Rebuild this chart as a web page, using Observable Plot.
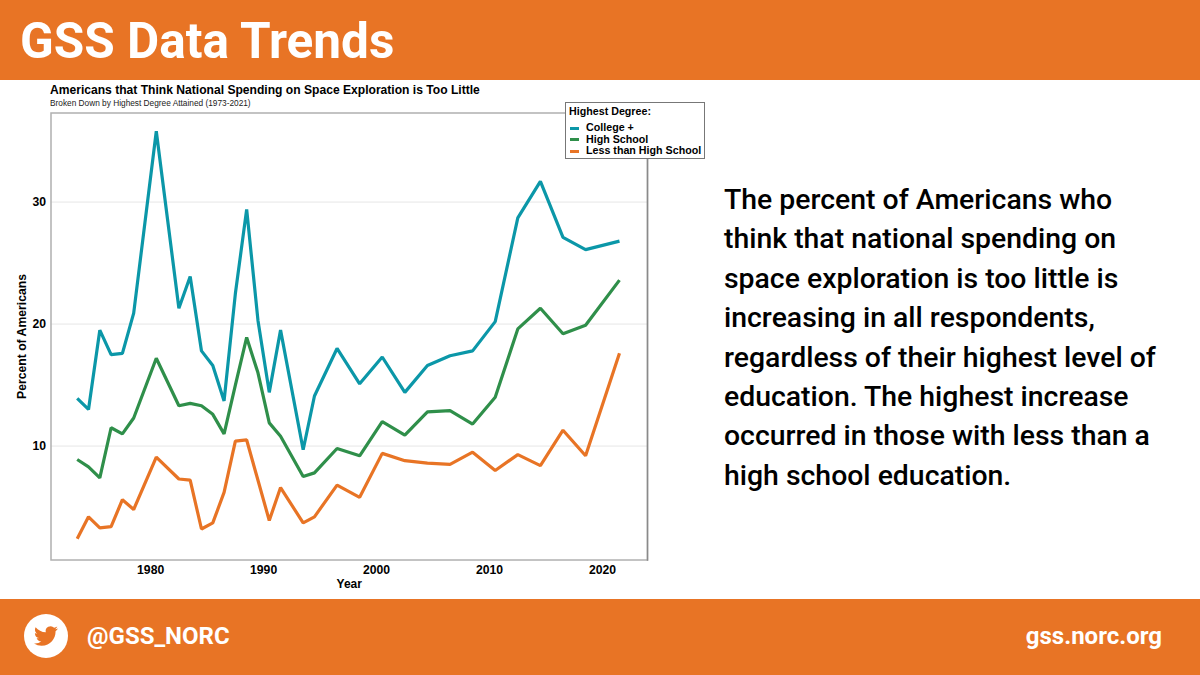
<!DOCTYPE html>
<html>
<head>
<meta charset="utf-8">
<script src="https://cdn.jsdelivr.net/npm/d3@7"></script>
<script src="https://cdn.jsdelivr.net/npm/@observablehq/plot@0.6"></script>
<style>
html,body{margin:0;padding:0;background:#fff;width:1200px;height:675px;overflow:hidden}
body{position:relative;font-family:"Liberation Sans",Arial,sans-serif;color:#000}
.band{position:absolute;left:0;width:1200px;background:#e87425;color:#fff;font-family:Roboto,sans-serif}
#head{top:0;height:80px}
#head div{position:absolute;left:20px;top:13px;font-size:49.5px;font-weight:700;line-height:56px}
#foot{top:599px;height:76px}
#handle{position:absolute;left:87px;top:21px;font-size:24px;font-weight:700;line-height:32px}
#site{position:absolute;right:38px;top:21px;font-size:24px;font-weight:700;line-height:32px}
#circle{position:absolute;left:24px;top:15px;width:44px;height:44px;border-radius:50%;background:#fff}
#circle svg{position:absolute;left:10px;top:10px;width:24px;height:24px}
#ctitle{position:absolute;left:50px;top:83px;font-size:12.1px;font-weight:700;line-height:15px;white-space:nowrap}
#csub{position:absolute;left:50px;top:98px;font-size:8.3px;line-height:11px;white-space:nowrap;color:#222}
#chart{position:absolute;left:0;top:100px}
#chart svg{display:block}
#legend{position:absolute;left:565px;top:102px;width:138px;height:55px;background:#fff;border:1px solid #777;font-size:10.7px;font-weight:700;line-height:11.6px}
#legend .t{position:absolute;left:3px;top:3px;white-space:nowrap}
#legend .r{position:absolute;left:3px;white-space:nowrap}
#legend .s{position:absolute;left:1px;top:4.5px;width:9px;height:3px}
#legend .l{position:absolute;left:17px;top:0}
#text{position:absolute;left:724px;top:180px;width:460px;font-family:Roboto,sans-serif;font-weight:500;font-size:28.4px;line-height:39.4px;color:#000}
</style>
</head>
<body>
<div id="head" class="band"><div>GSS Data Trends</div></div>
<div id="ctitle">Americans that Think National Spending on Space Exploration is Too Little</div>
<div id="csub">Broken Down by Highest Degree Attained (1973-2021)</div>
<div id="chart"></div>
<div id="legend"></div>
<div id="text">The percent of Americans who<br>think that national spending on<br>space exploration is too little is<br>increasing in all respondents,<br>regardless of their highest level of<br>education. The highest increase<br>occurred in those with less than a<br>high school education.</div>
<div id="foot" class="band">
  <div id="circle"><svg viewBox="0 0 24 24"><path fill="#e87425" d="M23.953 4.57a10 10 0 01-2.825.775 4.958 4.958 0 002.163-2.723c-.951.555-2.005.959-3.127 1.184a4.92 4.92 0 00-8.384 4.482C7.69 8.095 4.067 6.13 1.64 3.162a4.822 4.822 0 00-.666 2.475c0 1.71.87 3.213 2.188 4.096a4.904 4.904 0 01-2.228-.616v.06a4.923 4.923 0 003.946 4.827 4.996 4.996 0 01-2.212.085 4.936 4.936 0 004.604 3.417 9.867 9.867 0 01-6.102 2.105c-.39 0-.779-.023-1.17-.067a13.995 13.995 0 007.557 2.209c9.053 0 13.998-7.496 13.998-13.985 0-.21 0-.42-.015-.63A9.935 9.935 0 0024 4.59z"/></svg></div>
  <div id="handle">@GSS_NORC</div>
  <div id="site">gss.norc.org</div>
</div>
<script>
const years = [1973.5,1974.5,1975.5,1976.5,1977.5,1978.5,1980.5,1982.5,1983.5,1984.5,1985.5,1986.5,1987.5,1988.5,1989.5,1990.5,1991.5,1993.5,1994.5,1996.5,1998.5,2000.5,2002.5,2004.5,2006.5,2008.5,2010.5,2012.5,2014.5,2016.5,2018.5,2021.5];
const college = [13.9,13.0,19.5,17.5,17.6,20.9,35.8,21.3,23.9,17.8,16.6,13.7,22.5,29.4,20.3,14.4,19.5,9.7,14.1,18.0,15.1,17.3,14.4,16.6,17.4,17.8,20.2,28.7,31.7,27.1,26.1,26.8];
const highSchool = [8.9,8.3,7.4,11.5,11.0,12.3,17.2,13.3,13.5,13.3,12.6,11.0,15.0,18.9,16.0,11.9,10.8,7.5,7.8,9.8,9.2,12.0,10.9,12.8,12.9,11.8,14.0,19.6,21.3,19.2,19.9,23.6];
const lessThan = [2.4,4.2,3.3,3.4,5.6,4.8,9.1,7.3,7.2,3.2,3.7,6.2,10.4,10.5,7.2,3.9,6.6,3.7,4.2,6.8,5.8,9.4,8.8,8.6,8.5,9.5,8.0,9.3,8.4,11.3,9.2,17.6];
const seriesNames = ["College +","High School","Less than High School"];
const seriesColors = ["#0b97a8","#2f8f4a","#e87425"];
const xTicks = [1980,1990,2000,2010,2020];
const yTicks = [10,20,30];

const seriesValues = [college, highSchool, lessThan];
const rows = seriesNames.flatMap((name,i)=>years.map((year,j)=>({year,name,value:seriesValues[i][j]})));

const tickFont = {fontSize:12.2,fontWeight:700,fill:"#000"};
const chart = Plot.plot({
  width:720,height:500,
  marginTop:12.5,marginBottom:40.5,marginLeft:50.5,marginRight:73,
  style:{fontFamily:'"Liberation Sans",Arial,sans-serif',background:"transparent",overflow:"visible"},
  x:{domain:[1971.18,2023.98]},
  y:{domain:[0.66,37.3]},
  color:{domain:seriesNames,range:seriesColors},
  marks:[
    Plot.ruleY(yTicks,{stroke:"#e6e6e6",strokeWidth:1}),
    Plot.frame({stroke:"#b0b0b0",strokeWidth:1.5}),
    Plot.frame({anchor:"right",stroke:"#8a8a8a",strokeWidth:1.5}),
    Plot.axisX({ticks:xTicks,tickFormat:d=>String(d),tickSize:0,tickPadding:5,label:null,...tickFont}),
    Plot.axisY({ticks:yTicks,tickSize:0,tickPadding:5,label:null,...tickFont}),
    Plot.axisX({ticks:[],label:"Year",labelAnchor:"center",labelArrow:"none",labelOffset:28,fontSize:12,fontWeight:700}),
    Plot.axisY({ticks:[],label:"Percent of Americans",labelAnchor:"center",labelArrow:"none",labelOffset:34,fontSize:12.2,fontWeight:700}),
    Plot.lineY(rows,{x:"year",y:"value",stroke:"name",strokeWidth:3.2,strokeLinejoin:"miter",strokeLinecap:"butt",curve:"linear"})
  ]
});
document.getElementById("chart").appendChild(chart);

const legend = d3.select("#legend");
legend.append("div").attr("class","t").text("Highest Degree:");
seriesNames.forEach((n,i)=>{
  const r = legend.append("div").attr("class","r").style("top",(19+i*11.6)+"px");
  r.append("div").attr("class","s").style("background",seriesColors[i]);
  r.append("div").attr("class","l").text(n);
});
</script>
</body>
</html>
